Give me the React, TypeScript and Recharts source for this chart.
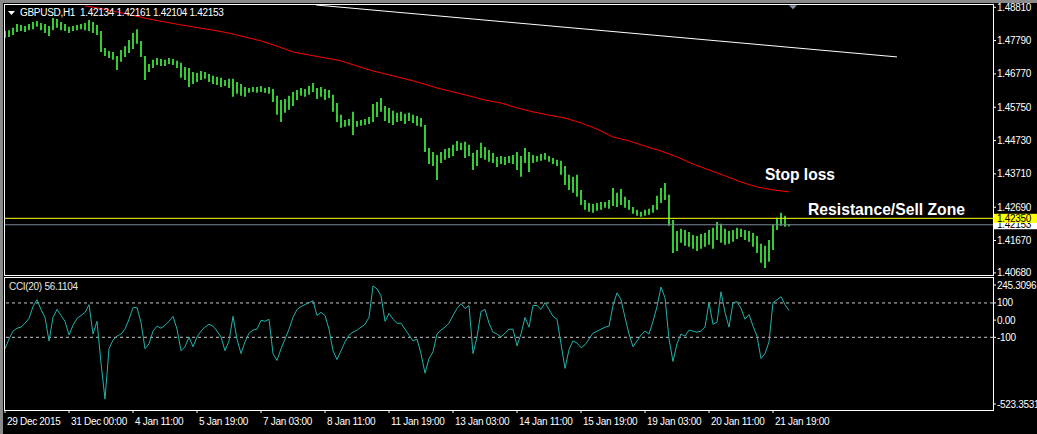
import {
  ComposedChart,
  LineChart,
  Bar,
  Line,
  XAxis,
  YAxis,
  ReferenceLine,
  ReferenceDot,
} from "recharts";

const FONT = "'Liberation Sans', Arial, sans-serif";

const tickLabels = [
  "29 Dec 2015", "31 Dec 00:00", "4 Jan 11:00", "5 Jan 19:00", "7 Jan 03:00",
  "8 Jan 11:00", "11 Jan 19:00", "13 Jan 03:00", "14 Jan 11:00", "15 Jan 19:00",
  "19 Jan 03:00", "20 Jan 11:00", "21 Jan 19:00",
];
const barsPerLabel = 16;

// GBPUSD H1 bar highs / lows
const highs = [
  1.4808, 1.4811, 1.4818, 1.4830, 1.4827, 1.4824, 1.4830, 1.4836, 1.4839, 1.4833,
  1.4830, 1.4824, 1.4848, 1.4845, 1.4836, 1.4830, 1.4821, 1.4824, 1.4827, 1.4830,
  1.4833, 1.4842, 1.4836, 1.4827, 1.4808, 1.4756, 1.4747, 1.4744, 1.4732, 1.4750,
  1.4762, 1.4781, 1.4802, 1.4814, 1.4778, 1.4732, 1.4707, 1.4720, 1.4726, 1.4723,
  1.4720, 1.4726, 1.4723, 1.4717, 1.4711, 1.4698, 1.4695, 1.4683, 1.4680, 1.4686,
  1.4683, 1.4677, 1.4671, 1.4668, 1.4665, 1.4658, 1.4662, 1.4662, 1.4652, 1.4646,
  1.4637, 1.4634, 1.4637, 1.4637, 1.4640, 1.4634, 1.4637, 1.4631, 1.4610, 1.4597,
  1.4600, 1.4610, 1.4622, 1.4628, 1.4634, 1.4631, 1.4640, 1.4649, 1.4634, 1.4637,
  1.4631, 1.4628, 1.4613, 1.4588, 1.4552, 1.4536, 1.4539, 1.4561, 1.4533, 1.4536,
  1.4539, 1.4545, 1.4585, 1.4591, 1.4603, 1.4579, 1.4573, 1.4564, 1.4558, 1.4561,
  1.4555, 1.4558, 1.4552, 1.4548, 1.4542, 1.4521, 1.4450, 1.4438, 1.4429, 1.4438,
  1.4447, 1.4450, 1.4460, 1.4472, 1.4466, 1.4469, 1.4460, 1.4435, 1.4444, 1.4466,
  1.4453, 1.4444, 1.4435, 1.4423, 1.4426, 1.4423, 1.4426, 1.4429, 1.4438, 1.4426,
  1.4450, 1.4438, 1.4429, 1.4426, 1.4432, 1.4435, 1.4426, 1.4420, 1.4414, 1.4411,
  1.4395, 1.4368, 1.4362, 1.4368, 1.4322, 1.4291, 1.4282, 1.4279, 1.4282, 1.4285,
  1.4285, 1.4291, 1.4328, 1.4313, 1.4325, 1.4301, 1.4291, 1.4270, 1.4261, 1.4255,
  1.4261, 1.4264, 1.4276, 1.4304, 1.4328, 1.4343, 1.4307, 1.4230, 1.4196, 1.4203,
  1.4199, 1.4193, 1.4184, 1.4181, 1.4187, 1.4190, 1.4199, 1.4206, 1.4224, 1.4218,
  1.4203, 1.4196, 1.4199, 1.4206, 1.4203, 1.4199, 1.4196, 1.4190, 1.4181, 1.4157,
  1.4151, 1.4169, 1.4215, 1.4237, 1.4252, 1.4243, 1.42161,
];
const lows = [
  1.4787, 1.4790, 1.4796, 1.4805, 1.4808, 1.4805, 1.4811, 1.4814, 1.4821, 1.4811,
  1.4802, 1.4793, 1.4811, 1.4818, 1.4811, 1.4808, 1.4802, 1.4808, 1.4811, 1.4814,
  1.4811, 1.4808, 1.4802, 1.4796, 1.4744, 1.4732, 1.4726, 1.4720, 1.4689, 1.4714,
  1.4729, 1.4741, 1.4753, 1.4769, 1.4729, 1.4658, 1.4683, 1.4695, 1.4704, 1.4701,
  1.4701, 1.4707, 1.4704, 1.4695, 1.4665, 1.4658, 1.4637, 1.4646, 1.4652, 1.4658,
  1.4662, 1.4652, 1.4646, 1.4643, 1.4637, 1.4640, 1.4634, 1.4607, 1.4616, 1.4610,
  1.4607, 1.4619, 1.4622, 1.4619, 1.4622, 1.4619, 1.4616, 1.4591, 1.4552, 1.4530,
  1.4558, 1.4567, 1.4579, 1.4597, 1.4610, 1.4607, 1.4613, 1.4622, 1.4600, 1.4607,
  1.4597, 1.4603, 1.4561, 1.4530, 1.4512, 1.4515, 1.4518, 1.4490, 1.4515, 1.4518,
  1.4521, 1.4524, 1.4530, 1.4545, 1.4561, 1.4533, 1.4527, 1.4521, 1.4530, 1.4533,
  1.4524, 1.4533, 1.4527, 1.4518, 1.4515, 1.4438, 1.4401, 1.4395, 1.4352, 1.4404,
  1.4414, 1.4420, 1.4426, 1.4441, 1.4444, 1.4420, 1.4426, 1.4383, 1.4395, 1.4420,
  1.4414, 1.4408, 1.4404, 1.4392, 1.4401, 1.4398, 1.4404, 1.4401, 1.4383, 1.4362,
  1.4404, 1.4377, 1.4404, 1.4408, 1.4411, 1.4414, 1.4408, 1.4401, 1.4395, 1.4368,
  1.4337, 1.4322, 1.4313, 1.4301, 1.4276, 1.4261, 1.4255, 1.4252, 1.4258, 1.4261,
  1.4267, 1.4264, 1.4273, 1.4270, 1.4276, 1.4267, 1.4261, 1.4249, 1.4243, 1.4240,
  1.4243, 1.4246, 1.4252, 1.4261, 1.4282, 1.4291, 1.4212, 1.4129, 1.4135, 1.4160,
  1.4151, 1.4148, 1.4142, 1.4135, 1.4142, 1.4148, 1.4154, 1.4142, 1.4169, 1.4160,
  1.4154, 1.4157, 1.4163, 1.4172, 1.4178, 1.4169, 1.4163, 1.4148, 1.4129, 1.4099,
  1.4083, 1.4102, 1.4138, 1.4199, 1.4212, 1.4209, 1.42104,
];

// moving average, read every 4th bar starting at bar 20
const maStart = 20;
const maStep = 4;
const maValues = [
  1.4885, 1.4877, 1.4867, 1.4856, 1.4845, 1.4836, 1.4827, 1.4819, 1.4811, 1.4802,
  1.4790, 1.4778, 1.4762, 1.4744, 1.4735, 1.4726, 1.4717, 1.4701, 1.4686, 1.4674,
  1.4662, 1.4649, 1.4634, 1.4622, 1.4610, 1.4597, 1.4588, 1.4573, 1.4561, 1.4551,
  1.4542, 1.4527, 1.4508, 1.4484, 1.4472, 1.4456, 1.4441, 1.4423, 1.4401, 1.4383,
  1.4365, 1.4346, 1.4331, 1.4322, 1.4316,
];

const cciValues = [
  -167, -110, -64, -47, -41, -18, 10, 79, 119, 62,
  16, -121, 16, 62, 27, -7, -87, -30, 10, 27,
  45, 90, -81, -7, -250, -460, -167, -116, -93, -81,
  -53, 5, 73, 73, -13, -167, -138, -64, -35, -47,
  -30, -7, 22, -53, -178, -155, -98, -155, -98, -64,
  -41, -24, -35, -64, -98, -178, -121, 22, -110, -195,
  -127, -76, -58, -53, -1, -7, 5, -195, -235, -167,
  -110, -53, 16, 62, 79, 90, 102, 113, 27, 45,
  27, -53, -178, -230, -178, -127, -87, -70, -58, -41,
  -24, 16, 199, 182, 142, -7, 39, 5, -18, -18,
  -53, -87, -121, -110, -195, -309, -224, -184, -81, -58,
  -41, -18, 27, 68, 96, 68, 85, -195, -98, 50,
  62, -18, -70, -81, -98, -76, -53, -53, -150, -81,
  16, -41, 85, 85, 62, 102, 62, 22, 5, -138,
  -281, -172, -121, -133, -161, -144, -110, -76, -64, -53,
  -41, -35, 85, 159, 119, 16, -81, -155, -121, -87,
  -64, -81, -7, 79, 193, 130, -110, -241, -138, -81,
  -93, -58, -64, -70, -64, -41, 102, -24, -13, 165,
  45, -41, 102, 107, 68, 5, 33, -35, -93, -224,
  -195, -127, 102, 119, 136, 90, 56.1104,
];

const lastOHLC = [1.42134, 1.42161, 1.42104, 1.42153];
const priceTicks = [1.4881, 1.4779, 1.4677, 1.4575, 1.4473, 1.4371, 1.4269, 1.4167, 1.4068];
const bidPrice = 1.42153;
const resistance = 1.4235;
const cciTicks = [245.3096, 100, 0, -100, -523.3531];
const priceDomain = [1.40615, 1.4891];
const xDomain = [-0.25, 247];

const rows = highs.map((h, i) => {
  const k = (i - maStart) / maStep;
  return {
    i,
    range: [lows[i], h],
    ma: Number.isInteger(k) && k >= 0 ? maValues[k] : null,
    cci: cciValues[i],
  };
});

const PriceTick = (props: any) => {
  const { x, y, payload } = props;
  const v = payload.value;
  const label = v.toFixed(5);
  if (v === bidPrice || v === resistance) {
    return (
      <g>
        <rect x={x - 4} y={y - 4.5} width={44} height={9} fill={v === resistance ? "#ffff00" : "#ffffff"} />
        <text x={x} y={y + 3.5} fill="#000" fontSize={10} fontFamily={FONT} letterSpacing={-0.3}>{label}</text>
      </g>
    );
  }
  return (
    <g>
      <line x1={x - 4} x2={x - 1} y1={y} y2={y} stroke="#fff" />
      <text x={x} y={y + 3.5} fill="#fff" fontSize={10} fontFamily={FONT} letterSpacing={-0.3}>{label}</text>
    </g>
  );
};

const CciTick = (props: any) => {
  const { x, y, payload } = props;
  const v = payload.value;
  const label = v === 0 ? "0.00" : String(v);
  let dy = 0;
  if (v === cciTicks[0]) dy = 7;
  if (v === cciTicks[cciTicks.length - 1]) dy = -6;
  return (
    <g>
      <line x1={x - 4} x2={x - 1} y1={y + dy} y2={y + dy} stroke="#fff" />
      <text x={x} y={y + dy + 3.5} fill="#fff" fontSize={10} fontFamily={FONT} letterSpacing={-0.3}>{label}</text>
    </g>
  );
};

const TimeTick = (props: any) => {
  const { x, y, payload } = props;
  return (
    <g>
      <line x1={x} x2={x} y1={y - 4} y2={y - 1} stroke="#fff" />
      <text x={x + 2} y={y + 11} fill="#fff" fontSize={10} fontFamily={FONT} letterSpacing={-0.3}>
        {tickLabels[Math.round(payload.value / barsPerLabel)]}
      </text>
    </g>
  );
};

const noteShape = (text: string, len: number) => (p: any) => (
  <text x={p.cx} y={p.cy} fill="#fff" fontSize={17} fontWeight="bold" fontFamily={FONT}
    textLength={len} lengthAdjust="spacingAndGlyphs">
    {text}
  </text>
);

export default function App() {
  return (
    <div style={{ position: "relative", width: 1037, height: 434, background: "#000", overflow: "hidden" }}>
      <style>{`body{margin:0;background:#000}`}</style>
      <div style={{ position: "absolute", left: 0, top: 0 }}>
        <ComposedChart width={1037} height={277} data={rows} margin={{ top: 4, right: 0, bottom: 2, left: 4 }}>
          <XAxis dataKey="i" type="number" domain={xDomain} allowDataOverflow hide />
          <YAxis
            orientation="right"
            type="number"
            domain={priceDomain}
            allowDataOverflow
            width={44}
            ticks={[...priceTicks, bidPrice, resistance]}
            interval={0}
            axisLine={false}
            tickLine={false}
            tickSize={3}
            tickMargin={1}
            tick={<PriceTick />}
          />
          <ReferenceLine y={bidPrice} stroke="#778899" />
          <ReferenceLine y={resistance} stroke="#ffff00" />
          <ReferenceLine
            segment={[{ x: 77.75, y: 1.4888 }, { x: 223, y: 1.4729 }]}
            stroke="#ffffff"
          />
          <Bar dataKey="range" fill="#33cc33" barSize={2} isAnimationActive={false} />
          <Line dataKey="ma" stroke="#ff0000" strokeWidth={1} dot={false} connectNulls isAnimationActive={false} />
          <ReferenceDot x={190} y={1.4352} r={0} shape={noteShape("Stop loss", 70)} />
          <ReferenceDot x={200.75} y={1.4246} r={0} shape={noteShape("Resistance/Sell Zone", 157)} />
          <ReferenceDot
            x={197}
            y={1.4890}
            r={0}
            shape={(p: any) => (
              <polygon points={`${p.cx - 4},${p.cy + 1} ${p.cx + 4},${p.cy + 1} ${p.cx},${p.cy + 5}`} fill="#8896a8" />
            )}
          />
        </ComposedChart>
      </div>
      <div style={{ position: "absolute", left: 0, top: 277 }}>
        <LineChart width={1037} height={157} data={rows} margin={{ top: 1, right: 0, bottom: 0, left: 4 }}>
          <XAxis
            dataKey="i"
            type="number"
            domain={xDomain}
            allowDataOverflow
            height={24}
            ticks={tickLabels.map((_, k) => k * barsPerLabel)}
            interval={0}
            axisLine={false}
            tickLine={false}
            tickSize={4}
            tickMargin={0}
            tick={<TimeTick />}
          />
          <YAxis
            orientation="right"
            type="number"
            domain={[cciTicks[cciTicks.length - 1], cciTicks[0]]}
            allowDataOverflow
            width={44}
            ticks={cciTicks}
            interval={0}
            axisLine={false}
            tickLine={false}
            tickSize={3}
            tickMargin={1}
            tick={<CciTick />}
          />
          <ReferenceLine y={100} stroke="#c8c8c8" strokeDasharray="3 3" />
          <ReferenceLine y={-100} stroke="#c8c8c8" strokeDasharray="3 3" />
          <Line dataKey="cci" stroke="#20b2aa" strokeWidth={1} dot={false} isAnimationActive={false} />
        </LineChart>
      </div>
      <svg width={1037} height={434} style={{ position: "absolute", left: 0, top: 0, pointerEvents: "none" }}>
        <rect x={0} y={0} width={1037} height={3} fill="#8a8a8a" />
        <rect x={0} y={0} width={3} height={434} fill="#8a8a8a" />
        <rect x={4.5} y={4.5} width={989} height={271} fill="none" stroke="#fff" />
        <rect x={4.5} y={277.5} width={989} height={133} fill="none" stroke="#fff" />
        <polygon points="8,11 15,11 11.5,15" fill="#fff" />
        <text x={20} y={16} fill="#fff" fontSize={10} fontFamily={FONT} letterSpacing={-0.3}>GBPUSD,H1</text>
        <text x={80} y={16} fill="#fff" fontSize={10} fontFamily={FONT} letterSpacing={-0.3}>
          {lastOHLC.map((v) => v.toFixed(5)).join(" ")}
        </text>
        <text x={9} y={290} fill="#e8e8e8" fontSize={10} fontFamily={FONT} letterSpacing={-0.3}>
          {`CCI(20) ${cciValues[cciValues.length - 1].toFixed(4)}`}
        </text>
      </svg>
    </div>
  );
}
